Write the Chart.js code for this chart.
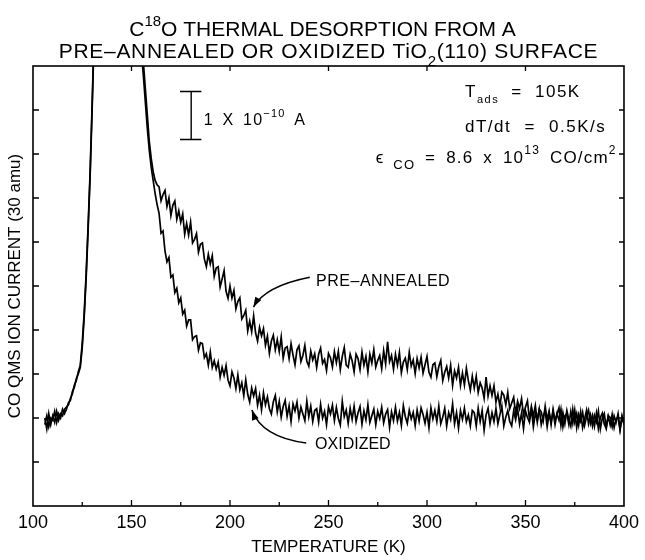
<!DOCTYPE html>
<html><head><meta charset="utf-8">
<script src="https://cdn.jsdelivr.net/npm/chart.js@4"></script>
<style>html,body{margin:0;padding:0;background:#fff}#wrap{width:645px;height:560px}</style>
</head><body><div id="wrap"><canvas id="c" width="645" height="560"></canvas></div>
<script>
// Temperature grid (K), one reading per kelvin
const temps = [
106,107,108,109,110,111,112,113,114,115,116,117,118,119,120,121,122,123,124,125,
126,127,128,129,130,131,132,133,134,135,136,137,138,139,140,141,142,143,144,145,
146,147,148,149,150,151,152,153,154,155,156,157,158,159,160,161,162,163,164,165,
166,167,168,169,170,171,172,173,174,175,176,177,178,179,180,181,182,183,184,185,
186,187,188,189,190,191,192,193,194,195,196,197,198,199,200,201,202,203,204,205,
206,207,208,209,210,211,212,213,214,215,216,217,218,219,220,221,222,223,224,225,
226,227,228,229,230,231,232,233,234,235,236,237,238,239,240,241,242,243,244,245,
246,247,248,249,250,251,252,253,254,255,256,257,258,259,260,261,262,263,264,265,
266,267,268,269,270,271,272,273,274,275,276,277,278,279,280,281,282,283,284,285,
286,287,288,289,290,291,292,293,294,295,296,297,298,299,300,301,302,303,304,305,
306,307,308,309,310,311,312,313,314,315,316,317,318,319,320,321,322,323,324,325,
326,327,328,329,330,331,332,333,334,335,336,337,338,339,340,341,342,343,344,345,
346,347,348,349,350,351,352,353,354,355,356,357,358,359,360,361,362,363,364,365,
366,367,368,369,370,371,372,373,374,375,376,377,378,379,380,381,382,383,384,385,
386,387,388,389,390,391,392,393,394,395,396,397,398,399,400];

// CO QMS ion current (axis units 0-10) - pre-annealed surface
const preAnnealed = [
1.85,2.05,1.8,2.0,1.95,2.15,1.9,2.1,2.0,2.2,2.1,
2.2,2.35,2.4,2.6,2.7,2.9,3.0,3.15,3.6,4.3,5.2,6.3,7.5,9.0,10.6,12.2,13.8,15.2,16.4,17.3,18.0,18.5,18.8,19.0,
19.0,18.8,18.4,17.9,17.2,16.4,15.6,14.8,14.0,13.3,12.6,12.0,11.6,11.2,10.6,10.1,9.5,8.9,8.3,7.9,7.6,7.4,7.3,
7.25,6.94,7.08,7.17,6.81,7.0,6.6,6.84,6.93,6.52,
6.71,6.45,6.64,6.18,6.42,6.16,6.45,5.98,6.06,6.19,
5.77,5.95,5.98,5.61,5.44,5.72,5.5,5.69,5.22,5.41,
5.44,4.98,5.16,5.35,4.88,4.72,5.0,4.73,4.9,4.48,
4.65,4.73,4.25,4.33,4.45,3.98,4.2,3.96,4.32,3.93,
3.75,4.06,3.87,4.03,3.65,3.86,3.47,3.75,3.88,3.55,
3.78,3.51,3.84,3.36,3.59,3.62,3.35,3.69,3.43,3.21,
3.55,3.64,3.28,3.42,3.65,3.29,3.18,3.52,3.32,3.46,
3.15,3.45,3.59,3.24,3.33,3.08,3.47,3.37,3.16,3.51,
3.26,3.51,3.1,3.4,3.6,3.2,3.15,3.45,3.3,3.05,
3.45,3.35,3.1,3.5,3.2,3.4,3.05,3.45,3.25,3.55,
3.16,3.31,3.42,3.12,3.53,3.23,3.73,3.28,3.42,3.11,
3.45,3.2,3.49,3.03,3.27,3.36,3.1,3.49,3.18,3.32,
3.01,3.35,3.14,3.38,3.02,3.21,3.4,3.04,2.93,3.21,
3.25,2.94,3.17,3.31,2.85,3.04,3.17,2.91,3.2,2.74,
3.07,2.91,3.15,2.74,3.02,2.75,3.13,2.85,2.63,2.95,
2.68,2.95,2.58,2.8,2.68,2.45,2.93,2.5,2.73,2.51,
2.73,2.36,2.54,2.27,2.59,2.52,2.3,2.58,2.21,2.34,
2.47,2.1,2.38,2.21,2.44,2.07,2.25,2.39,1.97,2.26,
2.04,2.28,1.91,2.2,2.14,1.93,2.27,1.96,2.16,1.85,
2.2,1.94,2.09,2.23,1.83,2.12,1.87,2.17,1.96,1.81,
2.2,1.9,2.1,1.84,2.14,1.78,1.98,2.18,1.87,2.07,
1.82,2.06,1.91,2.16,1.75,2.0,2.1,1.79,2.04,1.84,
2.08,1.78,1.98,2.02,1.72,2.02,1.87];

// oxidized surface
const oxidized = [
2.0,1.75,2.1,1.85,2.05,1.9,2.15,1.95,2.1,2.05,2.2,
2.25,2.3,2.45,2.55,2.75,2.85,3.05,3.2,3.7,4.4,5.3,6.4,7.6,9.1,10.7,12.3,13.9,15.3,16.5,17.4,18.1,18.6,18.9,19.0,
18.9,18.6,18.2,17.6,16.9,16.1,15.3,14.5,13.7,13.0,12.3,11.7,11.3,10.9,10.3,9.8,9.2,8.6,8.1,7.7,7.4,7.1,6.85,
6.65,6.2,6.25,5.8,5.55,5.65,5.2,5.25,4.85,4.95,
4.62,4.73,4.36,4.45,4.09,4.23,4.23,3.78,3.85,3.87,
3.54,3.71,3.69,3.37,3.46,3.2,3.5,3.15,3.3,3.11,
3.27,2.93,3.15,2.97,3.19,2.86,2.73,3.05,2.91,2.67,
2.98,2.64,2.8,2.51,2.87,2.54,2.36,2.68,2.5,2.67,
2.29,2.52,2.19,2.57,2.3,2.48,2.21,2.09,2.37,2.51,
2.14,2.38,2.02,2.26,2.4,2.04,2.28,1.92,2.32,2.16,
2.36,2.0,2.25,2.09,1.94,2.38,2.03,2.27,1.92,2.17,
2.21,1.91,2.31,2.0,2.15,1.85,2.25,2.09,2.29,1.94,
2.24,1.99,1.84,2.38,2.03,2.18,1.88,2.22,1.97,2.27,
1.92,2.12,2.26,1.86,2.16,1.96,2.3,1.9,2.05,2.2,
1.85,2.15,1.99,2.24,1.89,2.09,2.19,1.79,2.14,1.94,
2.24,1.93,2.13,1.83,2.28,2.03,1.88,2.18,1.98,2.13,
1.83,2.18,1.93,2.23,2.08,1.88,2.13,1.78,2.23,1.98,
2.17,1.92,2.27,1.87,2.02,2.22,1.82,2.12,1.97,2.32,
1.87,2.12,1.77,2.17,1.97,2.22,1.92,2.07,1.82,2.17,
2.12,1.82,2.22,1.92,2.17,1.72,2.07,2.22,1.87,2.12,
1.92,2.22,1.87,2.07,2.27,1.82,2.02,2.17,1.92,1.82,
2.16,1.96,2.21,1.86,2.11,1.76,2.16,2.01,1.91,2.21,
1.8,2.1,1.95,2.2,1.85,2.05,2.15,1.8,2.1,1.9,
2.15,1.85,2.1,1.95,2.2,1.8,2.05,2.1,1.85,2.15,
1.88,2.18,1.78,2.08,1.93,2.13,1.83,2.03,2.18,1.88,
2.06,1.81,2.11,1.76,2.01,2.11,1.86,1.76,2.06,2.01,
1.8,2.05,1.9,2.1,1.75,2.05,1.85];

const xLabelTicks = [100,150,200,250,300,350,400];
const xBottomTickMarks = [125,150,175,200,225,250,275,300,325,350,375];
const xTopTickMarks = [150,200,250,300,350];
const yTickMarks = [1,2,3,4,5,6,7,8,9];

const FAM = "'Liberation Sans', Arial, Helvetica, sans-serif";

// draw text made of [text, mode, scale] parts; mode 0 normal, 1 superscript, -1 subscript
// extra word spacing (wsp) is added after every space character
function drawRich(ctx, x, y, parts, size, align, spacing, wsp) {
  ctx.save();
  ctx.textBaseline = 'alphabetic';
  ctx.textAlign = 'left';
  ctx.fillStyle = '#000';
  if ('letterSpacing' in ctx) ctx.letterSpacing = (spacing || 0) + 'px';
  wsp = wsp || 0;
  const fs = p => p[1] ? Math.round(size * (p[2] || 0.7)) : size;
  // split every part into chunks at spaces
  const chunks = [];
  parts.forEach(p => {
    const segs = p[0].split(/( )/);
    segs.forEach(s => { if (s !== '') chunks.push({t: s, p}); });
  });
  let total = 0;
  chunks.forEach(c => {
    ctx.font = fs(c.p) + 'px ' + FAM;
    c.w = ctx.measureText(c.t).width + (c.t === ' ' ? wsp : 0);
    total += c.w;
  });
  let cx = align === 'center' ? x - total / 2 : (align === 'right' ? x - total : x);
  chunks.forEach(c => {
    ctx.font = fs(c.p) + 'px ' + FAM;
    const m = c.p[1];
    const dy = m === 1 ? -size * 0.5 : (m === -1 ? size * 0.38 : 0);
    if (c.t !== ' ') ctx.fillText(c.t, cx, y + dy);
    cx += c.w;
  });
  ctx.restore();
}

function curvedArrow(ctx, p0, p1, p2) {
  ctx.beginPath();
  ctx.moveTo(p0[0], p0[1]);
  ctx.quadraticCurveTo(p1[0], p1[1], p2[0], p2[1]);
  ctx.stroke();
  const ang = Math.atan2(p2[1] - p1[1], p2[0] - p1[0]);
  const L = 10, W = 3.5;
  ctx.beginPath();
  ctx.moveTo(p2[0], p2[1]);
  ctx.lineTo(p2[0] - L * Math.cos(ang) + W * Math.sin(ang), p2[1] - L * Math.sin(ang) - W * Math.cos(ang));
  ctx.lineTo(p2[0] - L * Math.cos(ang) - W * Math.sin(ang), p2[1] - L * Math.sin(ang) + W * Math.cos(ang));
  ctx.closePath();
  ctx.fill();
}

const decor = {
  id: 'decor',
  afterDatasetsDraw(chart) {
    const {ctx, chartArea: a, scales: {x, y}} = chart;
    const P = (t, v) => [x.getPixelForValue(t), y.getPixelForValue(v)];
    ctx.save();
    ctx.strokeStyle = '#000'; ctx.fillStyle = '#000';
    ctx.lineWidth = 1.6;
    ctx.strokeRect(a.left, a.top, a.right - a.left, a.bottom - a.top);
    ctx.lineWidth = 1.3;
    ctx.beginPath();
    xBottomTickMarks.forEach(t => { const px = x.getPixelForValue(t); const l = t % 50 === 0 ? 6 : 4; ctx.moveTo(px, a.bottom); ctx.lineTo(px, a.bottom - l); });
    xTopTickMarks.forEach(t => { const px = x.getPixelForValue(t); ctx.moveTo(px, a.top); ctx.lineTo(px, a.top + 5); });
    yTickMarks.forEach(v => { const py = y.getPixelForValue(v); ctx.moveTo(a.left, py); ctx.lineTo(a.left + 6, py); ctx.moveTo(a.right, py); ctx.lineTo(a.right - 5, py); });
    ctx.stroke();

    // scale bar
    ctx.lineWidth = 1.4;
    const b0 = P(180.3, 8.33), b1 = P(180.3, 9.42), cl = P(174.6, 0)[0], cr = P(185.5, 0)[0];
    ctx.beginPath();
    ctx.moveTo(b0[0], b0[1]); ctx.lineTo(b1[0], b1[1]);
    ctx.moveTo(cl, b0[1]); ctx.lineTo(cr, b0[1]);
    ctx.moveTo(cl, b1[1]); ctx.lineTo(cr, b1[1]);
    ctx.stroke();
    let q = P(186.7, 8.66);
    drawRich(ctx, q[0], q[1], [['1 X 10', 0], ['\u221210', 1], [' A', 0]], 16, 'left', 1.2, 3);

    q = P(319.3, 9.3);
    drawRich(ctx, q[0], q[1], [['T', 0], ['ads', -1, 0.65], [' = 105K', 0]], 17, 'left', 1.5, 6);
    q = P(319.3, 8.5);
    drawRich(ctx, q[0], q[1], [['dT/dt = 0.5K/s', 0]], 17, 'left', 1.5, 7);
    q = P(274, 7.8);
    drawRich(ctx, q[0], q[1], [['\u03F5', 0], [' CO', -1, 0.78], [' = 8.6 x 10', 0], ['13', 1], [' CO/cm', 0], ['2', 1]], 17, 'left', 1.2, 4);

    // curve labels
    q = P(243.7, 5.0);
    drawRich(ctx, q[0], q[1], [['PRE\u2013ANNEALED', 0]], 16, 'left', 0.5, 0);
    q = P(243.2, 1.3);
    drawRich(ctx, q[0], q[1], [['OXIDIZED', 0]], 16, 'left', 0, 0);
    ctx.lineWidth = 1.5;
    curvedArrow(ctx, P(240.5, 5.2), P(217.8, 5.0), P(211.9, 4.52));
    curvedArrow(ctx, P(238.7, 1.43), P(216.2, 1.56), P(211.1, 2.18));

    // title
    const cxm = chart.width / 2;
    drawRich(ctx, cxm, 36, [['C', 0], ['18', 1], ['O THERMAL DESORPTION FROM A', 0]], 21, 'center', 0, 0);
    drawRich(ctx, cxm + 6, 58, [['PRE\u2013ANNEALED OR OXIDIZED TiO', 0], ['2', -1], ['(110) SURFACE', 0]], 21, 'center', 0.7, 0);
    ctx.restore();
  }
};

const mk = (vals) => temps.map((t, i) => ({x: t, y: vals[i]}));

new Chart(document.getElementById('c'), {
  type: 'line',
  data: {
    datasets: [
      {label: 'PRE-ANNEALED', data: mk(preAnnealed), borderColor: '#000', borderWidth: 1.7, pointRadius: 0, tension: 0, fill: false},
      {label: 'OXIDIZED', data: mk(oxidized), borderColor: '#000', borderWidth: 1.7, pointRadius: 0, tension: 0, fill: false}
    ]
  },
  options: {
    responsive: false, animation: false, devicePixelRatio: 1,
    layout: {padding: {top: 66, right: 17, left: 0, bottom: 0}},
    plugins: {legend: {display: false}, tooltip: {enabled: false}, title: {display: false}},
    scales: {
      x: {
        type: 'linear', min: 100, max: 400,
        afterBuildTicks: (s) => { s.ticks = xLabelTicks.map(v => ({value: v})); },
        ticks: {color: '#000', font: {family: FAM, size: 18}, padding: 6, maxRotation: 0, autoSkip: false},
        grid: {display: false, drawTicks: false},
        border: {display: false},
        title: {display: true, text: 'TEMPERATURE (K)', color: '#000', font: {family: FAM, size: 17}, padding: {top: 0, bottom: 2}},
        afterFit: (s) => { s.height = 54; }
      },
      y: {
        type: 'linear', min: 0, max: 10,
        ticks: {display: false},
        grid: {display: false, drawTicks: false},
        border: {display: false},
        title: {display: true, text: 'CO QMS ION CURRENT (30 amu)', color: '#000', font: {family: FAM, size: 17}, padding: {top: 5, bottom: 0}},
        afterFit: (s) => { s.width = 33; }
      }
    }
  },
  plugins: [decor]
});
</script>
</body></html>
